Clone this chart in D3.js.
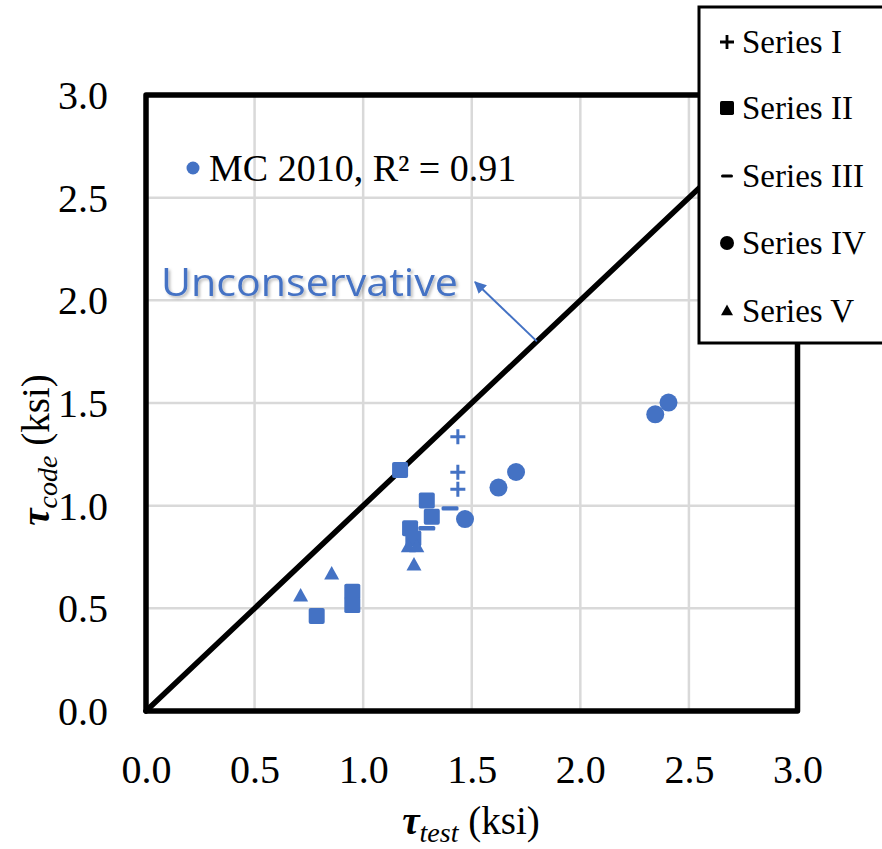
<!DOCTYPE html>
<html>
<head>
<meta charset="utf-8">
<script src="https://cdn.jsdelivr.net/npm/d3@7"></script>
<style>
  html, body { margin: 0; padding: 0; background: #fff; }
  svg { display: block; }
</style>
</head>
<body>
<svg id="chart" width="882" height="849"></svg>
<script>
// Measured vs. code-predicted shear stress (ksi), MC 2010
const seriesNames = ["Series I", "Series II", "Series III", "Series IV", "Series V"];
const seriesShapes = ["plus", "square", "dash", "circle", "triangle"];

const seriesI_test = [1.436, 1.436, 1.436];
const seriesI_code = [1.336, 1.163, 1.080];

const seriesII_test = [1.170, 1.293, 1.316, 1.216, 1.231, 0.786, 0.950, 0.950];
const seriesII_code = [1.174, 1.025, 0.946, 0.890, 0.840, 0.463, 0.581, 0.516];

const seriesIII_test = [1.400, 1.293];
const seriesIII_code = [0.987, 0.890];

const seriesIV_test = [1.469, 1.623, 1.704, 2.345, 2.406];
const seriesIV_code = [0.935, 1.088, 1.164, 1.445, 1.502];

const seriesV_test = [1.208, 1.247, 1.234, 0.855, 0.712];
const seriesV_code = [0.800, 0.800, 0.711, 0.667, 0.560];

const tickValues = [0.0, 0.5, 1.0, 1.5, 2.0, 2.5, 3.0];
const fitLabel = "MC 2010, R\u00B2 = 0.91";
const zoneLabel = "Unconservative";

const seriesTest = [seriesI_test, seriesII_test, seriesIII_test, seriesIV_test, seriesV_test];
const seriesCode = [seriesI_code, seriesII_code, seriesIII_code, seriesIV_code, seriesV_code];

const BLUE = "#4472C4";
const SERIF = "'Liberation Serif', 'Times New Roman', serif";

const svg = d3.select("#chart");
const plot = { left: 146, right: 797.5, top: 95, bottom: 711 };

const x = d3.scaleLinear().domain([0, 3]).range([plot.left, plot.right]);
const y = d3.scaleLinear().domain([0, 3]).range([plot.bottom, plot.top]);

// Gridlines
const grid = svg.append("g");
grid.selectAll("line.gx").data(tickValues).join("line")
  .attr("x1", d => x(d)).attr("x2", d => x(d))
  .attr("y1", plot.top).attr("y2", plot.bottom)
  .attr("stroke", "#d9d9d9").attr("stroke-width", 2.5);
grid.selectAll("line.gy").data(tickValues).join("line")
  .attr("y1", d => y(d)).attr("y2", d => y(d))
  .attr("x1", plot.left).attr("x2", plot.right)
  .attr("stroke", "#d9d9d9").attr("stroke-width", 2.5);

// Axis tick labels
const xAxis = d3.axisBottom(x).tickValues(tickValues).tickFormat(d3.format(".1f")).tickSize(0).tickPadding(72);
const yAxis = d3.axisLeft(y).tickValues(tickValues).tickFormat(d3.format(".1f")).tickSize(0).tickPadding(38);

const gx = svg.append("g").attr("transform", `translate(0,${plot.bottom})`).call(xAxis);
const gy = svg.append("g").attr("transform", `translate(${plot.left},0)`).call(yAxis);
[gx, gy].forEach(g => {
  g.select(".domain").remove();
  g.selectAll("text").attr("font-family", SERIF).attr("font-size", 40).attr("fill", "#000");
});
gx.selectAll("text").attr("dy", "0");
gy.selectAll("text").attr("dy", "0.34em");

// Plot frame
svg.append("rect")
  .attr("x", plot.left).attr("y", plot.top)
  .attr("width", plot.right - plot.left).attr("height", plot.bottom - plot.top)
  .attr("fill", "none").attr("stroke", "#000").attr("stroke-width", 5.5)
  .attr("stroke-linejoin", "round");

// Line of equality
svg.append("line")
  .attr("x1", x(0)).attr("y1", y(0)).attr("x2", x(3)).attr("y2", y(3))
  .attr("stroke", "#000").attr("stroke-width", 5.5).attr("stroke-linecap", "round");

// Marker drawing
function drawMarker(g, shape, cx, cy, s, color) {
  if (shape === "plus") {
    g.append("path")
      .attr("d", `M${cx - s / 2},${cy}H${cx + s / 2}M${cx},${cy - s / 2}V${cy + s / 2}`)
      .attr("stroke", color).attr("stroke-width", Math.max(2, s * 0.2)).attr("fill", "none");
  } else if (shape === "dash") {
    g.append("rect")
      .attr("x", cx - s / 2).attr("y", cy - s * 0.13)
      .attr("width", s).attr("height", s * 0.26).attr("rx", 1.5)
      .attr("fill", color);
  } else if (shape === "square") {
    g.append("rect")
      .attr("x", cx - s / 2).attr("y", cy - s / 2)
      .attr("width", s).attr("height", s).attr("rx", s * 0.12)
      .attr("fill", color);
  } else if (shape === "circle") {
    g.append("circle").attr("cx", cx).attr("cy", cy).attr("r", s / 2).attr("fill", color);
  } else if (shape === "triangle") {
    const h = s * 0.9;
    g.append("path")
      .attr("d", `M${cx},${cy - h * 0.6}L${cx + s / 2},${cy + h * 0.4}L${cx - s / 2},${cy + h * 0.4}Z`)
      .attr("fill", color);
  }
}

const markerSize = { plus: 15, square: 16, dash: 17, circle: 18, triangle: 15 };
const marks = svg.append("g");
seriesTest.forEach((xs, i) => {
  xs.forEach((xv, j) => {
    drawMarker(marks, seriesShapes[i], x(xv), y(seriesCode[i][j]), markerSize[seriesShapes[i]], BLUE);
  });
});

// Fit label with blue dot
svg.append("circle").attr("cx", 193).attr("cy", 168).attr("r", 6.5).attr("fill", BLUE);
svg.append("text")
  .attr("x", 209).attr("y", 181)
  .attr("font-family", SERIF).attr("font-size", 38).attr("fill", "#000")
  .text(fitLabel);

// Unconservative annotation with arrow
const defs = svg.append("defs");
const shadow = defs.append("filter").attr("id", "softShadow")
  .attr("x", "-10%").attr("y", "-30%").attr("width", "130%").attr("height", "170%");
shadow.append("feDropShadow")
  .attr("dx", 2).attr("dy", 2).attr("stdDeviation", 1.6)
  .attr("flood-color", "#000").attr("flood-opacity", 0.28);

defs.append("marker").attr("id", "arrowHead")
  .attr("viewBox", "0 0 10 10").attr("refX", 9).attr("refY", 5)
  .attr("markerWidth", 6).attr("markerHeight", 6).attr("orient", "auto")
  .append("path").attr("d", "M0,0L10,5L0,10Z").attr("fill", BLUE);

svg.append("text")
  .attr("x", 161).attr("y", 296)
  .attr("font-family", "'Open Sans', 'Noto Sans', sans-serif")
  .attr("font-size", 39).attr("fill", BLUE)
  .attr("textLength", 297).attr("lengthAdjust", "spacingAndGlyphs")
  .attr("filter", "url(#softShadow)")
  .text(zoneLabel);

svg.append("line")
  .attr("x1", x(1.80)).attr("y1", y(1.80))
  .attr("x2", 475).attr("y2", 282)
  .attr("stroke", BLUE).attr("stroke-width", 2)
  .attr("marker-end", "url(#arrowHead)");

// Axis titles
const yTitle = svg.append("text")
  .attr("transform", `translate(49,450) rotate(-90)`)
  .attr("text-anchor", "middle")
  .attr("font-family", SERIF).attr("font-size", 39).attr("fill", "#000");
yTitle.append("tspan").attr("font-weight", "bold").attr("font-style", "italic").text("\u03C4");
yTitle.append("tspan").attr("font-style", "italic").attr("font-size", 28).attr("dy", 8).text("code");
yTitle.append("tspan").attr("dy", -8).text(" (ksi)");

const xTitle = svg.append("text")
  .attr("x", 471).attr("y", 834)
  .attr("text-anchor", "middle")
  .attr("font-family", SERIF).attr("font-size", 39).attr("fill", "#000");
xTitle.append("tspan").attr("font-weight", "bold").attr("font-style", "italic").text("\u03C4");
xTitle.append("tspan").attr("font-style", "italic").attr("font-size", 28).attr("dy", 8).text("test");
xTitle.append("tspan").attr("dy", -8).text(" (ksi)");

// Legend
const legend = svg.append("g");
legend.append("rect")
  .attr("x", 699).attr("y", 7).attr("width", 200).attr("height", 336)
  .attr("fill", "#fff").attr("stroke", "#000").attr("stroke-width", 3);
const legendRows = [42, 108, 176, 243, 311];
const legendSize = { plus: 14, square: 14, dash: 12, circle: 14, triangle: 12 };
seriesNames.forEach((name, i) => {
  const cy = legendRows[i];
  drawMarker(legend, seriesShapes[i], 727, cy, legendSize[seriesShapes[i]], "#000");
  legend.append("text")
    .attr("x", 742).attr("y", cy + 11)
    .attr("font-family", SERIF).attr("font-size", 33).attr("fill", "#000")
    .text(name);
});
</script>
</body>
</html>
